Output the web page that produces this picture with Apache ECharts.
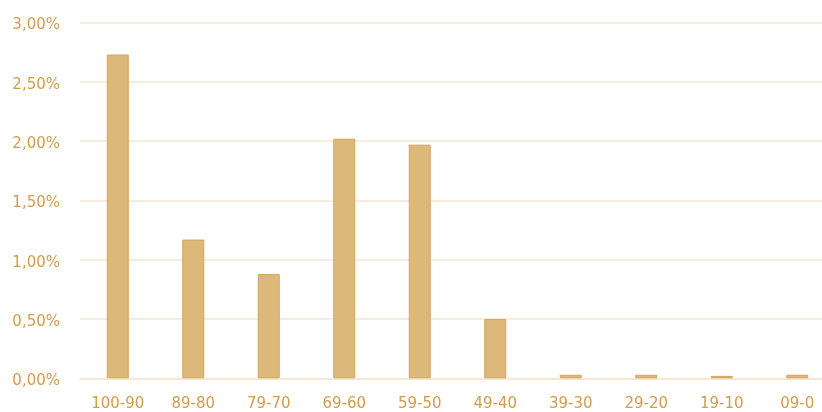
<!DOCTYPE html>
<html>
<head>
<meta charset="utf-8">
<script src="https://cdn.jsdelivr.net/npm/echarts@6/dist/echarts.min.js"></script>
<style>
  html, body { margin: 0; padding: 0; background: #ffffff; }
  #chart { width: 822px; height: 412px; }
</style>
</head>
<body>
<div id="chart"></div>
<script>
// Score bands and the share of results falling into each (percent)
const categories = ['100-90', '89-80', '79-70', '69-60', '59-50', '49-40', '39-30', '29-20', '19-10', '09-0'];
const shares = [2.73, 1.17, 0.88, 2.02, 1.97, 0.50, 0.03, 0.03, 0.02, 0.03];
const yTicks = [0, 0.5, 1, 1.5, 2, 2.5, 3];

const labelColor = '#D29C4C';
const gridColor = '#F6E6D0';
const font = '"DejaVu Sans", sans-serif';

const chart = echarts.init(document.getElementById('chart'), null, { renderer: 'canvas' });
chart.setOption({
  animation: false,
  backgroundColor: '#ffffff',
  // the plot runs a little past the right edge of the canvas
  grid: { left: 80, width: 755, top: 22.5, bottom: 33.7, containLabel: false, outerBoundsMode: 'none' },
  xAxis: {
    type: 'category',
    data: categories,
    axisLine: { show: true, lineStyle: { color: gridColor, width: 1.5 } },
    axisTick: { show: false },
    axisLabel: { color: labelColor, fontFamily: font, fontSize: 15, margin: 18 }
  },
  yAxis: {
    type: 'value',
    min: yTicks[0],
    max: yTicks[yTicks.length - 1],
    interval: 0.5,
    axisLine: { show: false },
    axisTick: { show: false },
    splitLine: { lineStyle: { color: gridColor, width: 1.5 } },
    axisLabel: {
      color: labelColor,
      fontFamily: font,
      fontSize: 15,
      margin: 20,
      formatter: v => '{p|' + v.toFixed(2).replace('.', ',') + '%}',
      rich: {
        // nudge the percent labels slightly below their gridline
        p: { color: labelColor, fontFamily: font, fontSize: 15, padding: [6, 0, 0, 0] }
      }
    }
  },
  series: [{
    type: 'bar',
    data: shares,
    barWidth: 22,
    itemStyle: { color: '#DDB87B', borderColor: '#D5A45C', borderWidth: 1 }
  }]
});
</script>
</body>
</html>
